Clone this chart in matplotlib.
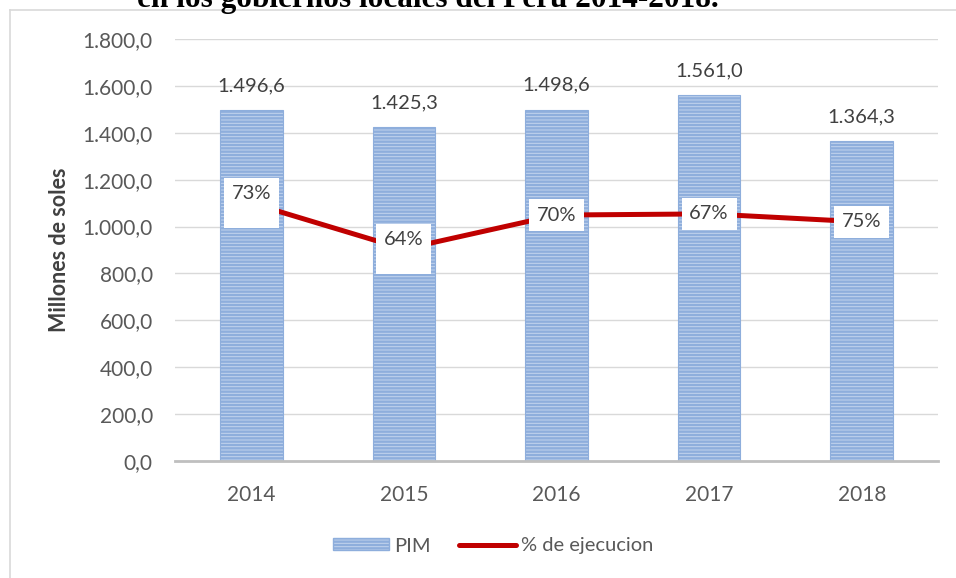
import matplotlib
matplotlib.use("Agg")
import matplotlib.pyplot as plt
from matplotlib.patches import Rectangle
from matplotlib.lines import Line2D

years = ["2014", "2015", "2016", "2017", "2018"]
pim = [1496.6, 1425.3, 1498.6, 1561.0, 1364.3]
ejecutado = [1100, 904, 1049, 1054, 1020]
pct_labels = ["73%\n", "64%\n", "70%", "67%", "75%"]
yticks = [0, 200, 400, 600, 800, 1000, 1200, 1400, 1600, 1800]


def fmt(v):
    # 1,496.6 -> 1.496,6
    return f"{v:,.1f}".replace(",", "X").replace(".", ",").replace("X", ".")


plt.rcParams['font.family'] = ['Lato', 'DejaVu Sans']
plt.rcParams['hatch.linewidth'] = 1.7
plt.rcParams['hatch.color'] = '#4472bd'

fig = plt.figure(figsize=(9.56, 5.78), dpi=100)
ax = fig.add_axes([175 / 956, 1 - 461 / 578, 763 / 956, 422 / 578])

x = list(range(len(years)))
ax.bar(x, pim, width=0.41, color='#c3d4ee', edgecolor='#8eaedc', linewidth=0.8,
       hatch='-----', zorder=2)
ax.plot(x, ejecutado, color='#c00000', linewidth=3.6, zorder=3)

for i, v in enumerate(pim):
    ax.annotate(fmt(v), (i, v), xytext=(0, 17.5), textcoords='offset points',
                ha='center', va='center', fontsize=14.5, color='#404040')

for i, (v, lab) in enumerate(zip(ejecutado, pct_labels)):
    ax.text(i, v, lab, ha='center', va='center', fontsize=14.5, color='#404040', zorder=5,
            linespacing=1.1, bbox=dict(boxstyle='square,pad=0.38', fc='white', ec='none'))

ax.set_xlim(-0.5, 4.5)
ax.set_ylim(0, 1800)
ax.set_xticks(x)
ax.set_xticklabels(years)
ax.set_yticks(yticks)
ax.set_yticklabels([fmt(t) for t in yticks])
ax.tick_params(axis='both', length=0, labelsize=15, labelcolor='#595959')
ax.tick_params(axis='x', pad=17)
ax.tick_params(axis='y', pad=16)
ax.grid(axis='y', color='#d9d9d9', linewidth=1, zorder=0)
for sp in ['top', 'right', 'left']:
    ax.spines[sp].set_visible(False)
ax.spines['bottom'].set_color('#bfbfbf')
ax.spines['bottom'].set_linewidth(2)
ax.spines['bottom'].set_zorder(4)
ax.set_ylabel("Millones de soles", fontsize=15.5, fontweight='bold', color='#404040', labelpad=9)

handles = [Rectangle((0, 0), 1, 1, facecolor='#c3d4ee', edgecolor='#8eaedc', hatch='-----'),
           Line2D([0], [0], color='#c00000', linewidth=3.6, solid_capstyle='round')]
fig.legend(handles, ["PIM", "% de ejecucion"], loc='center', bbox_to_anchor=(493 / 956, 1 - 546 / 578),
           ncol=2, frameon=False, fontsize=14.5, labelcolor='#595959', handlelength=2.8,
           handleheight=0.55, columnspacing=1.4, handletextpad=0.25)

# chart frame and the caption above it, which the reference shows cut off at the top
fig.add_artist(Line2D([10 / 956, 10 / 956], [0, 1 - 10 / 578], color='#d9d9d9', lw=1.2))
fig.add_artist(Line2D([10 / 956, 1], [1 - 10 / 578, 1 - 10 / 578], color='#d9d9d9', lw=1.2))
fig.text(137 / 956, 1 - 7 / 578, "en los gobiernos locales del Perú 2014-2018.",
         fontsize=22.5, fontweight='bold', family='Liberation Serif', va='baseline')

fig.savefig("out.png", dpi=100)
